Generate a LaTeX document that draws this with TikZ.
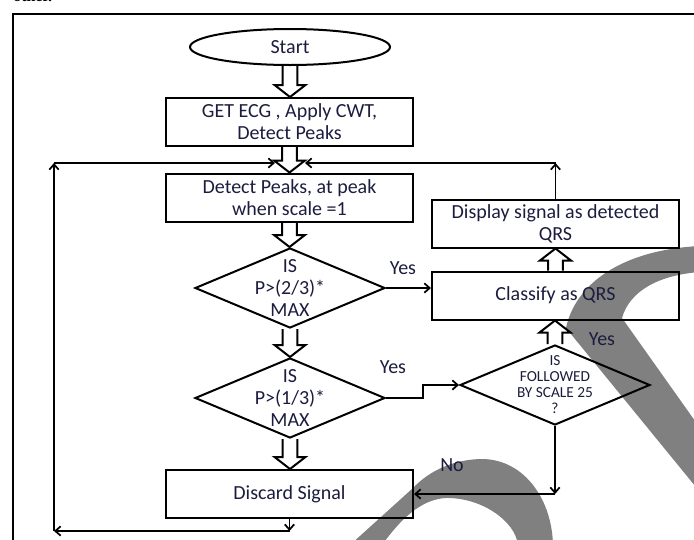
\documentclass[tikz,border=0pt]{standalone}
\usepackage{fontspec}
\setmainfont{Carlito}
\usepackage{xcolor}
\usepackage{tikz}
\usetikzlibrary{shapes,arrows,positioning,calc,arrows.meta}

\definecolor{txtblue}{RGB}{28,28,62}
\definecolor{wmgray}{RGB}{128,128,128}

\tikzset{
  txt/.style={text=txtblue, align=center, font=\fontsize{15}{16.5}\selectfont},
  smalltxt/.style={text=txtblue, align=center, font=\fontsize{11.5}{12}\selectfont},
  box/.style={txt, draw, line width=1.5pt, minimum width=185.25pt, minimum height=36pt, inner sep=0pt},
  term/.style={txt, draw, ellipse, line width=1.5pt, minimum width=150pt, minimum height=27pt, inner sep=0pt},
  dec/.style={draw, diamond, line width=1.5pt, minimum width=142.5pt, minimum height=60pt, inner sep=0pt},
  arr/.style={line width=1.3pt, -{Straight Barb[length=4pt,width=7pt]}},
  fatline/.style={line width=1.5pt, line join=miter},
}

% hollow block arrow, vertical, from #1 to #2
\newcommand{\fatarrow}[2]{%
  \draw[fatline] let \p1=(#1), \p2=(#2), \n1={ifthenelse(\y2<\y1,9,-9)} in
    (\x1-5.6pt,\y1) -- (\x1-5.6pt,\y2+\n1*1pt) -- (\x1-11.6pt,\y2+\n1*1pt)
    -- (\x1,\y2) -- (\x1+11.6pt,\y2+\n1*1pt) -- (\x1+5.6pt,\y2+\n1*1pt) -- (\x1+5.6pt,\y1);}

\begin{document}
\begin{tikzpicture}[x=0.75pt, y=-0.75pt]
    \useasboundingbox (0,0) rectangle (694,540);

    % watermark shapes behind the chart
    \fill[wmgray] (700,246) .. controls (620,250) and (575,285) .. (566,328)
        -- (700,492) -- (700,428) -- (622,318)
        .. controls (630,290) and (660,275) .. (700,272) -- cycle;
    \fill[wmgray] (350,545) -- (413,488) .. controls (430,470) and (455,459) .. (483,459)
        .. controls (525,460) and (552,500) .. (553,545) -- (518,545)
        .. controls (515,520) and (480,497) .. (445,498)
        .. controls (420,500) and (400,520) .. (382,545) -- cycle;

    % frame
    \node[anchor=base west, inner sep=0pt, font=\fontspec{Liberation Serif}\bfseries\fontsize{12}{14}\selectfont] (other) at (13,1.5) {other.};
    \draw[line width=2.2pt] (13,545) -- (13,14) -- (700,14);

    % left column
    \node[term] (start) at (290,47) {Start};
    \node[box] (get) at (289.5,122) {GET ECG , Apply CWT,\\Detect Peaks};
    \node[box] (detect) at (289.5,197.5) {Detect Peaks, at peak\\when scale =1};
    \node[dec, label={[txt]center:{IS\\P>(2/3)*\\MAX}}] (big) at (290,288) {};
    \node[dec, label={[txt]center:{IS\\P>(1/3)*\\MAX}}] (mid) at (290,398) {};
    \node[box] (discard) at (289.5,494) {Discard Signal};

    % right column
    \node[box] (display) at (555.5,223.5) {Display signal as detected\\QRS};
    \node[box] (classify) at (555.5,295.5) {Classify as QRS};
    \node[dec, label={[smalltxt]center:{IS\\FOLLOWED\\BY SCALE 25\\?}}] (follow) at (555,385) {};

    \fatarrow{start.south}{get.north}
    \fatarrow{get.south}{detect.north}
    \fatarrow{detect.south}{big.north}
    \fatarrow{big.south}{mid.north}
    \fatarrow{mid.south}{discard.north}
    \fatarrow{classify.north}{display.south}
    \fatarrow{follow.north}{classify.south}

    % decisions
    \draw[arr] (big.east) -- (big.east -| classify.west);
    \node[txt] (yesa) at (403,268) {Yes};
    \draw[arr] (mid.east) -- ++(37,0) |- (follow.west);
    \node[txt] (yesb) at (393,367) {Yes};
    \node[txt] (yesc) at (602,339) {Yes};
    \coordinate (c3) at (follow.south |- discard.east);
    \draw[arr] (follow.south) -- (c3);
    \draw[arr] (c3) -- (discard.east);
    \node[txt] (no) at (452,465) {No};

    % loops back to peak detection
    \coordinate (b1) at (289.5,531);
    \coordinate (b2) at (54,531);
    \coordinate (b3) at (54,163);
    \coordinate (t1) at (275,163);
    \coordinate (t2) at (305,163);
    \coordinate (r1) at (555.5,163);
    \draw[arr] (discard.south) -- (b1);
    \draw[arr] (b1) -- (b2);
    \draw[arr] (b2) -- (b3);
    \draw[arr] (b3) -- (t1);
    \draw[arr] (display.north) -- (r1);
    \draw[arr] (r1) -- (t2);
\end{tikzpicture}
\end{document}
